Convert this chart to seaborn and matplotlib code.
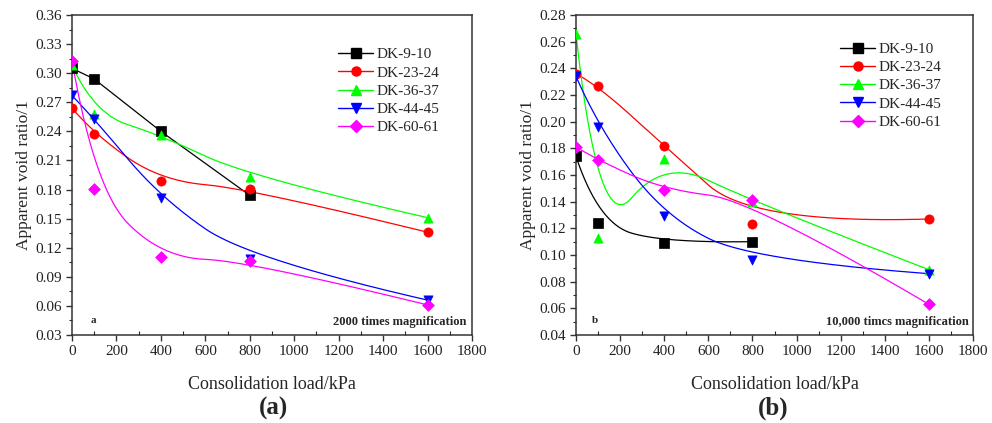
import numpy as np
import matplotlib
matplotlib.use("Agg")
import matplotlib.pyplot as plt
from matplotlib.lines import Line2D
from matplotlib.ticker import MultipleLocator, FormatStrFormatter
import seaborn as sns

sns.set_style("ticks")
plt.rcParams["font.family"] = ["Liberation Serif", "DejaVu Serif"]

# ---------------- data ----------------
series_names = ["DK-9-10", "DK-23-24", "DK-36-37", "DK-44-45", "DK-60-61"]
colors = ["#000000", "#ff0000", "#00ff00", "#0000ff", "#ff00ff"]
markers = ["s", "o", "^", "v", "D"]

loads_a_black = [0, 100, 400, 800]
loads = [0, 100, 400, 800, 1600]

# panel a: 2000 times magnification
a_dk_9_10 = [0.305, 0.294, 0.240, 0.174]
a_dk_23_24 = [0.264, 0.237, 0.189, 0.181, 0.136]
a_dk_36_37 = [0.308, 0.258, 0.236, 0.193, 0.151]
a_dk_44_45 = [0.277, 0.253, 0.171, 0.108, 0.066]
a_dk_60_61 = [0.313, 0.181, 0.110, 0.106, 0.061]

# panel b: 10,000 times magnification
b_dk_9_10 = [0.174, 0.124, 0.109, 0.110]
b_dk_23_24 = [0.236, 0.227, 0.182, 0.123, 0.127]
b_dk_36_37 = [0.266, 0.113, 0.172, 0.140, 0.089]
b_dk_44_45 = [0.234, 0.196, 0.129, 0.096, 0.086]
b_dk_60_61 = [0.181, 0.171, 0.149, 0.141, 0.063]

x_label = "Consolidation load/kPa"
y_label = "Apparent void ratio/1"


def bspline(xs, ys, k=2, n=400):
    P = np.column_stack([np.asarray(xs, float), np.asarray(ys, float)])
    m = len(P)
    k = min(k, m - 1)
    knots = np.concatenate([np.zeros(k), np.linspace(0, 1, m - k + 1), np.ones(k)])
    us = np.linspace(0, 1, n)
    us[-1] -= 1e-9
    out = []
    for u in us:
        j = np.searchsorted(knots, u, side="right") - 1
        d = [P[j - k + i].copy() for i in range(k + 1)]
        for r in range(1, k + 1):
            for i in range(k, r - 1, -1):
                den = knots[i + 1 + j - r] - knots[i + j - k]
                al = 0.0 if den == 0 else (u - knots[i + j - k]) / den
                d[i] = (1 - al) * d[i - 1] + al * d[i]
        out.append(d[k])
    return np.array(out)


W, H = 992, 423
fig = plt.figure(figsize=(W / 100, H / 100), dpi=100)
ax_a = fig.add_axes([72 / W, (H - 335) / H, 400 / W, 320 / H])
ax_b = fig.add_axes([576 / W, (H - 335) / H, 397 / W, 320 / H])

panels = [
    (ax_a, [(loads_a_black, a_dk_9_10, "line"), (loads, a_dk_23_24, "spline"),
            (loads, a_dk_36_37, "spline"), (loads, a_dk_44_45, "spline"),
            (loads, a_dk_60_61, "spline")]),
    (ax_b, [(loads_a_black, b_dk_9_10, "spline"), (loads, b_dk_23_24, "spline"),
            (loads, b_dk_36_37, "spline"), (loads, b_dk_44_45, "spline"),
            (loads, b_dk_60_61, "spline")]),
]

for ax, sers in panels:
    for (xs, ys, kind), c, mk in zip(sers, colors, markers):
        if kind == "line":
            cx, cy = np.asarray(xs, float), np.asarray(ys, float)
        else:
            cur = bspline(xs, ys)
            cx, cy = cur[:, 0], cur[:, 1]
        sns.lineplot(x=cx, y=cy, sort=False, estimator=None, color=c, lw=0.9, ax=ax)
        ms = 44 if mk != "D" else 36
        sns.scatterplot(x=xs, y=ys, marker=mk, color=c, edgecolor=c, s=ms,
                        linewidth=0.5, ax=ax, zorder=3)

# axes formatting
ax_a.set_ylim(0.03, 0.36)
ax_a.yaxis.set_major_locator(MultipleLocator(0.03))
ax_a.yaxis.set_minor_locator(MultipleLocator(0.015))
ax_b.set_ylim(0.04, 0.28)
ax_b.yaxis.set_major_locator(MultipleLocator(0.02))
ax_b.yaxis.set_minor_locator(MultipleLocator(0.01))

legend_tops = {ax_a: 0.898, ax_b: 0.915}

for ax in (ax_a, ax_b):
    ax.set_xlim(0, 1800)
    ax.xaxis.set_major_locator(MultipleLocator(200))
    ax.xaxis.set_minor_locator(MultipleLocator(100))
    ax.yaxis.set_major_formatter(FormatStrFormatter("%.2f"))
    ax.tick_params(axis="both", which="major", direction="out", length=4,
                   width=1, labelsize=11, colors="#333333", labelcolor="#222222")
    ax.tick_params(axis="y", which="minor", direction="out", length=2.5, width=0.8)
    ax.tick_params(axis="x", which="minor", direction="in", length=3, width=0.8)
    for s in ax.spines.values():
        s.set_visible(True)
        s.set_color("#333333")
        s.set_linewidth(1.1)
    ax.set_xlabel(x_label, fontsize=13, labelpad=13)
    ax.set_ylabel(y_label, fontsize=12.5, labelpad=2)
    handles = [Line2D([0], [0], color=c, marker=m, markersize=6.5, lw=1,
                      markeredgecolor=c) for c, m in zip(colors, markers)]
    ax.legend(handles, series_names, loc="upper left",
              bbox_to_anchor=(0.665, legend_tops[ax]), frameon=False, fontsize=11,
              handlelength=2.3, handletextpad=0.2, labelspacing=0.3,
              borderpad=0, borderaxespad=0)

ax_a.text(94, 0.0445, "a", fontsize=8, fontweight="bold", ha="center", va="center")
ax_a.text(0.985, 0.04, "2000 times magnification", transform=ax_a.transAxes,
          fontsize=9, fontweight="bold", ha="right", va="center")
ax_b.text(86, 0.051, "b", fontsize=8, fontweight="bold", ha="center", va="center")
ax_b.text(0.99, 0.04, "10,000 timcs magnification", transform=ax_b.transAxes,
          fontsize=9, fontweight="bold", ha="right", va="center")

fig.text(273 / W, 1 - 408 / H, "(a)", fontsize=18, fontweight="bold",
         ha="center", va="center")
fig.text(773 / W, 1 - 408 / H, "(b)", fontsize=18, fontweight="bold",
         ha="center", va="center")

fig.savefig("out.png", dpi=100)
